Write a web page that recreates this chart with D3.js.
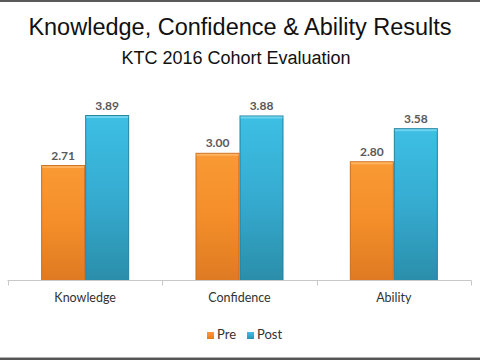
<!DOCTYPE html>
<html><head><meta charset="utf-8">
<script src="https://cdn.jsdelivr.net/npm/d3@7"></script>
<style>body{margin:0;background:#fff}svg{display:block}</style>
</head><body>
<svg id="c" width="480" height="360"></svg>
<script>
const categories = ["Knowledge", "Confidence", "Ability"];
const seriesNames = ["Pre", "Post"];
const preValues = [2.71, 3.00, 2.80];
const postValues = [3.89, 3.88, 3.58];
const titleText = "Knowledge, Confidence & Ability Results";
const subtitleText = "KTC 2016 Cohort Evaluation";

const svg = d3.select("#c");
const W = 480, H = 360;
const baseY = 280.5;
const x0 = d3.scaleBand().domain(categories).range([8, 471]).paddingInner(0).paddingOuter(0);
const x1 = d3.scaleBand().domain(seriesNames).range([0, 88]);
const y = d3.scaleLinear().domain([0, 4.5]).range([baseY, baseY - 4.5 * 42.4]);

const defs = svg.append("defs");
const grads = {
  Pre: ["#f99a34", "#f48e2a", "#de7a22"],
  Post: ["#3dbfe4", "#36abd0", "#2a8eaa"]
};
const edges = { Pre: "#c96c1c", Post: "#23809c" };
const tops = { Pre: "#fdb360", Post: "#6fd3f0" };
seriesNames.forEach(s => {
  const g = defs.append("linearGradient").attr("id", "g" + s).attr("x1", 0).attr("y1", 0).attr("x2", 0).attr("y2", 1);
  g.append("stop").attr("offset", "0%").attr("stop-color", grads[s][0]);
  g.append("stop").attr("offset", "50%").attr("stop-color", grads[s][1]);
  g.append("stop").attr("offset", "100%").attr("stop-color", grads[s][2]);
});

// frame lines
svg.append("rect").attr("x", 0).attr("y", 0).attr("width", W).attr("height", 2).attr("fill", "#5a5a5a");
svg.append("rect").attr("x", 0).attr("y", 357).attr("width", W).attr("height", 1).attr("fill", "#b0b0b0");
svg.append("rect").attr("x", 0).attr("y", 358).attr("width", W).attr("height", 2).attr("fill", "#555");

// titles
svg.append("text").attr("x", 240).attr("y", 35).attr("text-anchor", "middle")
  .attr("font-family", "Liberation Sans, Arial, sans-serif").attr("font-size", 23.5).attr("fill", "#111").text(titleText);
svg.append("text").attr("x", 236).attr("y", 64).attr("text-anchor", "middle")
  .attr("font-family", "Liberation Sans, Arial, sans-serif").attr("font-size", 18).attr("fill", "#111").text(subtitleText);

const data = categories.map((c, i) => ({ cat: c, vals: [{ s: "Pre", v: preValues[i] }, { s: "Post", v: postValues[i] }] }));

const groups = svg.selectAll("g.grp").data(data).enter().append("g")
  .attr("transform", d => `translate(${x0(d.cat) + (x0.bandwidth() - 88) / 2},0)`);

groups.selectAll("rect.bar").data(d => d.vals).enter().append("rect")
  .attr("x", d => x1(d.s) + 0.5).attr("y", d => y(d.v))
  .attr("width", x1.bandwidth() - 1).attr("height", d => baseY - y(d.v))
  .attr("fill", d => `url(#g${d.s})`).attr("stroke", d => edges[d.s]).attr("stroke-width", 1);
groups.selectAll("rect.top").data(d => d.vals).enter().append("rect")
  .attr("x", d => x1(d.s) + 1).attr("y", d => y(d.v) + 0.5)
  .attr("width", x1.bandwidth() - 2).attr("height", 2).attr("fill", d => tops[d.s]);
groups.selectAll("text.val").data(d => d.vals).enter().append("text")
  .attr("x", d => x1(d.s) + x1.bandwidth() / 2).attr("y", d => y(d.v) - 6)
  .attr("text-anchor", "middle").attr("font-family", "Lato, Open Sans, sans-serif")
  .attr("font-size", 12).attr("font-weight", "bold").attr("fill", "#595959")
  .text(d => d.v.toFixed(2));

// axis
const axis = d3.axisBottom(x0).tickSize(0).tickPadding(13);
const ag = svg.append("g").attr("transform", `translate(0,${baseY})`).call(axis);
ag.select(".domain").attr("stroke", "#c8c8c8").attr("d", "M7.5,0H471.5");
ag.selectAll("text").attr("font-family", "Lato, Open Sans, sans-serif").attr("font-size", 12.5).attr("fill", "#333");
const tickXs = categories.map(c => x0(c)).concat([x0.range()[1]]);
svg.append("g").selectAll("line").data(tickXs).enter().append("line")
  .attr("x1", d => Math.round(d) + 0.5).attr("x2", d => Math.round(d) + 0.5)
  .attr("y1", baseY).attr("y2", baseY + 5).attr("stroke", "#c8c8c8");

// legend
const leg = svg.append("g").attr("transform", "translate(207,339)");
const legItems = [{ s: "Pre", x: 0 }, { s: "Post", x: 40 }];
legItems.forEach(it => {
  leg.append("rect").attr("x", it.x).attr("y", -7).attr("width", 7).attr("height", 7).attr("fill", `url(#g${it.s})`);
  leg.append("text").attr("x", it.x + 10).attr("y", 0).attr("font-family", "Lato, Open Sans, sans-serif")
    .attr("font-size", 13).attr("fill", "#333").text(it.s);
});
</script>
</body></html>
